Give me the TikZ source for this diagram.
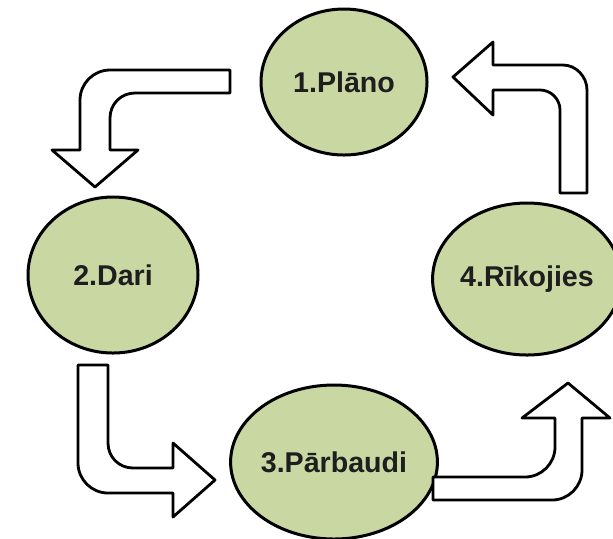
\documentclass[tikz,border=0pt]{standalone}
\usepackage{fontspec}
\setmainfont{Liberation Sans}
\usepackage{tikz}
\usetikzlibrary{shapes.geometric}
\definecolor{phasegreen}{RGB}{201,215,163}
\definecolor{phasetext}{RGB}{30,30,30}
\tikzset{
	phase/.style={ellipse, draw=black, line width=1.5pt, fill=phasegreen,
		text=phasetext, inner sep=0pt, font=\fontsize{14.3}{17}\selectfont\bfseries},
	bentarrow/.style={draw=black, line width=1.4pt, fill=white, line join=round}
}

\begin{document}
\begin{tikzpicture}[x=0.5pt, y=-0.5pt]
		%%%%% START %%%%%
		\useasboundingbox (0, 0) rectangle (613, 538);
		
		\node[phase, minimum width=83pt, minimum height=73pt] (plano) at (344, 82) {1.Plāno};
		\node[phase, minimum width=85pt, minimum height=78pt] (dari) at (113, 275) {2.Dari};
		\node[phase, minimum width=91pt, minimum height=77pt] (parbaudi) at (334, 462) {3.Pārbaudi};
		\node[phase, minimum width=85pt, minimum height=76pt] (rikojies) at (527, 279) {4.Rīkojies};
		
		% plano -> dari
		\draw[bentarrow] (230, 70) -- (110, 70) .. controls (93.5, 70) and (80, 83.5) .. (80, 100)
			-- (80, 150) -- (52, 150) -- (95, 187) -- (138, 150) -- (110, 150)
			-- (110, 118) .. controls (110, 104) and (121, 93) .. (135, 93) -- (230, 93) -- cycle;
		
		% dari -> parbaudi
		\draw[bentarrow] (78, 365) -- (108, 365) -- (108, 443) .. controls (108, 457) and (119, 468) .. (133, 468)
			-- (173, 468) -- (173, 443) -- (215, 480) -- (173, 517) -- (173, 493)
			-- (108, 493) .. controls (91.5, 493) and (78, 479.5) .. (78, 463) -- cycle;
		
		% parbaudi -> rikojies
		\draw[bentarrow] (433, 477) -- (525, 477) .. controls (541.5, 477) and (555, 463.5) .. (555, 447)
			-- (555, 418) -- (522, 418) -- (568, 383) -- (610, 418) -- (582, 418)
			-- (582, 470) .. controls (582, 486.5) and (568.5, 500) .. (552, 500) -- (433, 500) -- cycle;
		
		% rikojies -> plano
		\draw[bentarrow] (587, 193) -- (587, 90) .. controls (587, 76.8) and (576.2, 65) .. (563, 65)
			-- (493, 65) -- (493, 42) -- (453, 77) -- (493, 115) -- (493, 90)
			-- (540, 90) .. controls (551, 90) and (560, 99) .. (560, 110) -- (560, 193) -- cycle;
		
		%%%%% END %%%%%
	\end{tikzpicture}
\end{document}
